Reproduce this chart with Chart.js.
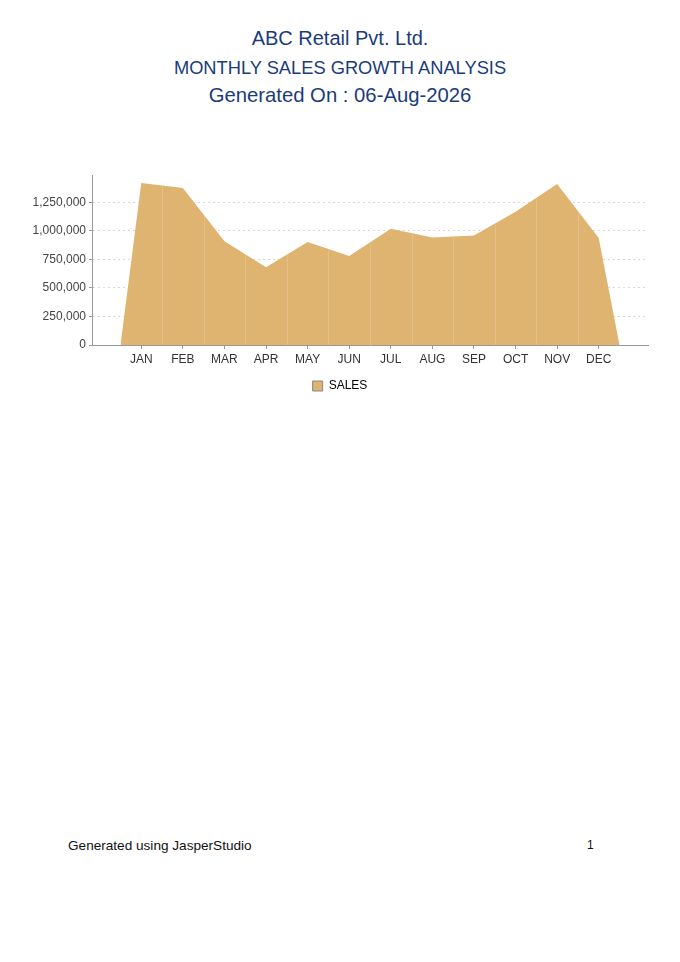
<!DOCTYPE html>
<html>
<head>
<meta charset="utf-8">
<script src="https://cdn.jsdelivr.net/npm/chart.js@4.4.1/dist/chart.umd.min.js"></script>
<style>
    body { margin: 0; background: #fff; font-family: "Liberation Sans", Arial, sans-serif; }
    .page { position: relative; width: 680px; height: 962px; }
    .title { position: absolute; left: 0; width: 680px; text-align: center; color: #1b3c7a; }
    #chartBox { position: absolute; left: 0; top: 160px; width: 680px; height: 242px; }
    .footer { position: absolute; top: 838px; font-size: 13.6px; color: #111; }
</style>
</head>
<body>
<div class="page">
    <div class="title" style="top:27px;font-size:20px;">ABC Retail Pvt. Ltd.</div>
    <div class="title" style="top:57px;font-size:18.3px;">MONTHLY SALES GROWTH ANALYSIS</div>
    <div class="title" style="top:84px;font-size:20.3px;">Generated On : 06-Aug-2026</div>
    <div id="chartBox"><canvas id="salesChart"></canvas></div>
    <div class="footer" style="left:68px;">Generated using JasperStudio</div>
    <div class="footer" style="left:587px;font-size:12px;top:838px;">1</div>
</div>
<script>
const months = ['JAN', 'FEB', 'MAR', 'APR', 'MAY', 'JUN', 'JUL', 'AUG', 'SEP', 'OCT', 'NOV', 'DEC'];
const sales = [1420000, 1378000, 910000, 683000, 904000, 780000, 1019000, 942000, 960000, 1169000, 1413000, 939000];
const yTicks = [0, 250000, 500000, 750000, 1000000, 1250000];

// area drops to zero half a category before the first and after the last month
const points = [{ x: -0.5, y: 0 }];
sales.forEach((v, i) => points.push({ x: i, y: v }));
points.push({ x: months.length - 0.5, y: 0 });

// faint seams between the per-category area segments
const seams = {
    id: 'seams',
    afterDatasetsDraw(chart) {
        const x = chart.scales.x, y = chart.scales.y, c = chart.ctx;
        c.save();
        c.strokeStyle = 'rgba(255,255,255,0.18)';
        c.lineWidth = 1;
        for (let i = 0; i < sales.length - 1; i++) {
            const px = Math.round(x.getPixelForValue(i + 0.5)) + 0.5;
            c.beginPath();
            c.moveTo(px, y.getPixelForValue(0));
            c.lineTo(px, y.getPixelForValue((sales[i] + sales[i + 1]) / 2) + 1);
            c.stroke();
        }
        c.restore();
    }
};

const ctx = document.getElementById('salesChart').getContext('2d');
new Chart(ctx, {
    type: 'line',
    data: {
        datasets: [{
            label: 'SALES',
            data: points,
            fill: 'origin',
            backgroundColor: '#dfb370',
            borderColor: '#dfb370',
            borderWidth: 0,
            pointRadius: 0,
            tension: 0
        }]
    },
    plugins: [seams],
    options: {
        responsive: true,
        maintainAspectRatio: false,
        animation: false,
        layout: { padding: { top: 15, right: 0, left: 0, bottom: 0 } },
        plugins: {
            tooltip: { enabled: false },
            legend: {
                position: 'bottom',
                labels: {
                    color: '#333',
                    font: { family: 'Liberation Sans', size: 12 },
                    boxWidth: 10,
                    boxHeight: 10,
                    padding: 10,
                    generateLabels: chart => [{
                        text: 'SALES',
                        fillStyle: '#dfb370',
                        strokeStyle: '#888',
                        lineWidth: 1,
                        datasetIndex: 0
                    }]
                }
            }
        },
        scales: {
            x: {
                type: 'linear',
                min: -1.185,
                max: months.length - 1 + 1.185,
                afterBuildTicks: s => { s.ticks = months.map((m, i) => ({ value: i })); },
                afterFit: s => { s.height = 25; },
                ticks: {
                    callback: v => months[v],
                    color: '#333',
                    font: { family: 'Liberation Sans', size: 12 },
                    maxRotation: 0,
                    autoSkip: false,
                    padding: 3
                },
                grid: { drawOnChartArea: false, drawTicks: true, tickLength: 4, color: '#999' },
                border: { display: true, color: '#999' }
            },
            y: {
                min: 0,
                max: Math.max(...sales) * 1.05,
                afterBuildTicks: s => { s.ticks = yTicks.map(v => ({ value: v })); },
                afterFit: s => { s.width = 92; },
                ticks: {
                    callback: v => v.toLocaleString('en-US'),
                    color: '#444',
                    font: { family: 'Liberation Sans', size: 12 },
                    padding: 3
                },
                grid: {
                    color: '#d8d8d8',
                    tickColor: '#999',
                    tickLength: 3,
                    tickBorderDash: [],
                    lineWidth: 1
                },
                border: { display: true, color: '#999', dash: [2, 3] }
            },
            // empty right-hand gutter so the legend stays centred on the page
            gutter: {
                position: 'right',
                min: 0,
                max: 1,
                afterFit: s => { s.width = 32; },
                ticks: { display: false },
                grid: { display: false },
                border: { display: false }
            }
        }
    }
});
</script>
</body>
</html>
